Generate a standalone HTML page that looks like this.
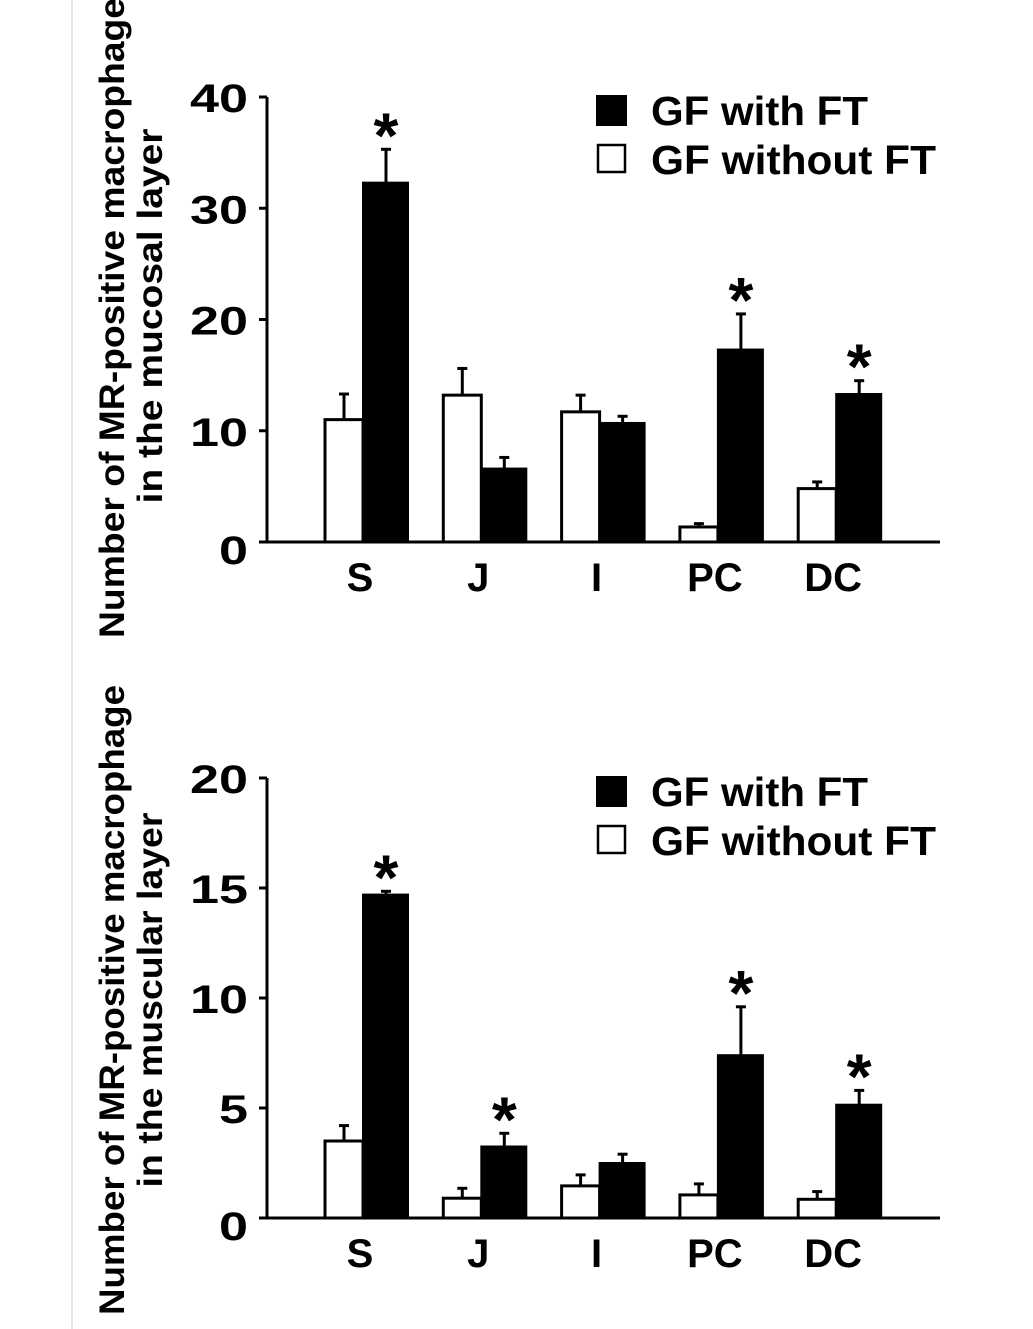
<!DOCTYPE html>
<html><head><meta charset="utf-8"><style>
html,body{margin:0;padding:0;background:#fff;}
svg{display:block;font-family:"Liberation Sans",Arial,sans-serif;font-weight:bold;}
</style></head><body>
<svg id="fig" width="1033" height="1329" viewBox="0 0 1033 1329">
<line x1="72" y1="0" x2="72" y2="1329" stroke="#e6e6e6" stroke-width="2"/>
</svg>
<script>
const categories = ["S","J","I","PC","DC"];
// top chart (mucosal layer)
const topWith = [32.3, 6.6, 10.7, 17.3, 13.3];
const topWithErr = [3.0, 1.0, 0.6, 3.2, 1.2];
const topWithout = [11.0, 13.2, 11.7, 1.35, 4.8];
const topWithoutErr = [2.3, 2.4, 1.5, 0.3, 0.6];
const topSig = [true, false, false, true, true];
const topTicks = [0, 10, 20, 30, 40];
// bottom chart (muscular layer)
const botWith = [14.7, 3.25, 2.5, 7.4, 5.15];
const botWithErr = [0.15, 0.6, 0.4, 2.2, 0.65];
const botWithout = [3.5, 0.9, 1.46, 1.05, 0.85];
const botWithoutErr = [0.7, 0.45, 0.5, 0.5, 0.35];
const botSig = [true, true, false, true, true];
const botTicks = [0, 5, 10, 15, 20];

const NS = "http://www.w3.org/2000/svg";
const svg = document.getElementById("fig");
function mk(tag, attrs, parent, text){
  const e = document.createElementNS(NS, tag);
  for (const k in attrs) e.setAttribute(k, attrs[k]);
  if (text !== undefined) e.textContent = text;
  (parent || svg).appendChild(e);
  return e;
}

function drawChart(cfg){
  const g = mk("g", {});
  
  
  const y = v => cfg.y0 - (v / cfg.max) * (cfg.y0 - cfg.yTop);
  const xc = i => 363 + i * 118.3;
  const ax = mk("line", {x1:267,y1:cfg.yTop,x2:267,y2:cfg.y0,stroke:"#000","stroke-width":3}, g);
  
  
  const xa = mk("line", {x1:260,y1:cfg.y0,x2:940,y2:cfg.y0,stroke:"#000","stroke-width":3}, g);
  
  
  cfg.ticks.forEach(t => {
    const tk = mk("line", {x1:259,y1:y(t),x2:267,y2:y(t),stroke:"#000","stroke-width":3}, g);
    
    
    const s = String(t);
    const tl = mk("text", {x:248,y:y(t)+(t===0?22:15),"text-anchor":"end","font-size":40,textLength:s.length*29,lengthAdjust:"spacingAndGlyphs"}, g, s);
    
    
  });
  categories.forEach((c, i) => {
    const cx = xc(i);
    const wv = cfg.without[i], we = cfg.withoutErr[i];
    const wx = cx - 38;
    const el = mk("line", {x1:wx+19,y1:y(wv),x2:wx+19,y2:y(wv+we),stroke:"#000","stroke-width":3}, g);
    
    
    const ec = mk("line", {x1:wx+14,y1:y(wv+we),x2:wx+24,y2:y(wv+we),stroke:"#000","stroke-width":3}, g);
    
    
    const wb = mk("rect", {x:wx,y:y(wv),width:38,height:cfg.y0-y(wv),fill:"#fff",stroke:"#000","stroke-width":3}, g);
    
    
    const bv = cfg.with[i], be = cfg.withErr[i];
    const bx = cx;
    const bl = mk("line", {x1:bx+23,y1:y(bv),x2:bx+23,y2:y(bv+be),stroke:"#000","stroke-width":3}, g);
    
    
    const bc = mk("line", {x1:bx+18,y1:y(bv+be),x2:bx+28,y2:y(bv+be),stroke:"#000","stroke-width":3}, g);
    
    
    const bb = mk("rect", {x:bx,y:y(bv),width:45,height:cfg.y0-y(bv),fill:"#000",stroke:"#000","stroke-width":2}, g);
    
    
    if (cfg.sig[i]) {
      const s = mk("text", {x:bx+23,y:y(bv+be)+8,"text-anchor":"middle","font-size":64}, g, "*");
      
      
    }
    const cl = mk("text", {x:cx-3,y:cfg.y0+49,"text-anchor":"middle","font-size":40}, g, c);
    
    
  });
  const l1 = mk("rect", {x:597,y:cfg.legY,width:29,height:29,fill:"#000",stroke:"#000","stroke-width":2}, g);
  
  
  const t1 = mk("text", {x:651,y:cfg.legY+29,"font-size":41,textLength:217,lengthAdjust:"spacingAndGlyphs"}, g, "GF with FT");
  
  
  const l2 = mk("rect", {x:598,y:cfg.legY+49,width:27,height:27,fill:"#fff",stroke:"#000","stroke-width":2.5}, g);
  
  
  const t2 = mk("text", {x:651,y:cfg.legY+78,"font-size":41,textLength:285,lengthAdjust:"spacingAndGlyphs"}, g, "GF without FT");
  
  
  const yt1 = mk("text", {transform:"translate(124," + cfg.titleC + ") rotate(-90)","text-anchor":"middle","font-size":35,textLength:cfg.t1Len,lengthAdjust:"spacingAndGlyphs"}, g, "Number of MR-positive macrophage");
  
  
  const yt2 = mk("text", {transform:"translate(162," + cfg.title2C + ") rotate(-90)","text-anchor":"middle","font-size":35,textLength:cfg.t2Len,lengthAdjust:"spacingAndGlyphs"}, g, cfg.title2);
  
  
}

drawChart({name:"mucosal-chart", y0:542, yTop:97, max:40, ticks:topTicks,
  with:topWith, withErr:topWithErr, without:topWithout, withoutErr:topWithoutErr, sig:topSig,
  legY:96, titleC:318, t1Len:640, title2C:316, t2Len:375, title2:"in the mucosal layer"});
drawChart({name:"muscular-chart", y0:1218, yTop:778, max:20, ticks:botTicks,
  with:botWith, withErr:botWithErr, without:botWithout, withoutErr:botWithoutErr, sig:botSig,
  legY:777, titleC:1000, t1Len:630, title2C:1000, t2Len:375, title2:"in the muscular layer"});
</script>
</body></html>
